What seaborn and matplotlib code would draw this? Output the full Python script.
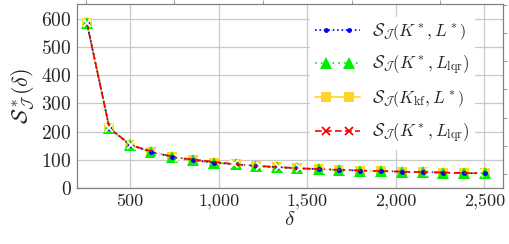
import matplotlib
matplotlib.use("Agg")
import matplotlib.pyplot as plt
from matplotlib.lines import Line2D
from matplotlib.legend_handler import HandlerLine2D
from matplotlib.ticker import FuncFormatter, MultipleLocator
import seaborn as sns

# values
delta = [256, 383, 500, 618, 737, 854, 974, 1095, 1212, 1329,
         1442, 1564, 1677, 1800, 1916, 2035, 2151, 2266, 2383, 2505]
s_opt = [585, 212, 153, 128, 111, 99, 90, 84, 78, 74,
         70, 67, 64, 62, 60, 58, 56, 55, 53, 52]
s_lqr = [585, 212, 153, 128, 111, 99, 90, 84, 78, 74,
         70, 67, 64, 62, 60, 58, 56, 55, 53, 52]
s_kf = [585, 212, 153, 128, 111, 99, 90, 84, 78, 74,
        70, 67, 64, 62, 60, 58, 56, 55, 53, 52]
delta_red = [256, 383, 505, 664, 776, 1085, 1160, 1234, 1338, 1460,
             1611, 1724, 1846, 1969, 2091, 2195, 2317, 2467]
s_red = [585, 212, 152, 122, 107, 85, 81, 78, 74, 70,
         66, 64, 61, 59, 57, 56, 54, 52]

labels = [r"$\mathcal{S}_{\mathcal{J}}\left(K^*, L^*\right)$",
          r"$\mathcal{S}_{\mathcal{J}}\left(K^*, L_{\mathrm{lqr}}\right)$",
          r"$\mathcal{S}_{\mathcal{J}}\left(K_{\mathrm{kf}}, L^*\right)$",
          r"$\mathcal{S}_{\mathcal{J}}\left(K^*, L_{\mathrm{lqr}}\right)$"]


class TwoMarks(HandlerLine2D):
    # full-width sample line, markers at 1/4 and 3/4
    def create_artists(self, legend, orig_handle, xdescent, ydescent,
                       width, height, fontsize, trans):
        arts = super().create_artists(legend, orig_handle, xdescent, ydescent,
                                      width, height, fontsize, trans)
        arts[-1].set_markevery([1, 3])
        return arts


sns.set_style("white")
plt.rcParams["font.family"] = ["cmr10", "DejaVu Serif"]
plt.rcParams["mathtext.fontset"] = "cm"
plt.rcParams["axes.formatter.use_mathtext"] = True

fig = plt.figure(figsize=(5.09, 2.44), dpi=100)
ax = fig.add_axes([0.1513, 0.2295, 0.837, 0.754])

styles = [
    dict(color="#0000FF", linestyle=":", marker="o", markersize=3.5,
         markeredgewidth=0, linewidth=1.2),
    dict(color="#00EE00", linestyle=(0, (1, 2.5)), marker="^", markersize=8,
         markeredgewidth=0, linewidth=1.2),
    dict(color="#FFD42A", linestyle="-", marker="s", markersize=7.5,
         markeredgewidth=0, linewidth=1.2),
    dict(color="#FF0000", linestyle=(0, (4, 2)), marker="x", markersize=5.5,
         markeredgewidth=1.3, linewidth=1.2),
]

sns.lineplot(x=delta, y=s_kf, ax=ax, zorder=2, **styles[2])
sns.lineplot(x=delta, y=s_lqr, ax=ax, zorder=3, **styles[1])
sns.lineplot(x=delta, y=s_opt, ax=ax, zorder=4, **styles[0])
sns.lineplot(x=delta_red, y=s_red, ax=ax, zorder=5, **styles[3])

ax.set_xlim(200, 2605)
ax.set_ylim(0, 653)
ax.xaxis.set_major_locator(MultipleLocator(500))
ax.xaxis.set_minor_locator(MultipleLocator(250))
ax.yaxis.set_major_locator(MultipleLocator(100))
ax.yaxis.set_minor_locator(MultipleLocator(50))
ax.xaxis.set_major_formatter(FuncFormatter(lambda v, p: f"{v:,.0f}"))
ax.grid(True, which="major", color="#C8C8C8", linewidth=0.9)
ax.tick_params(which="major", length=0, pad=4)
ax.tick_params(axis="x", which="major", labelsize=13)
ax.tick_params(axis="y", which="major", labelsize=14)
ax.tick_params(which="minor", direction="out", length=3, color="#888888",
               top=True, right=True)
for sp in ax.spines.values():
    sp.set_color("#808080")
    sp.set_linewidth(0.9)

ax.set_xlabel(r"$\delta$", fontsize=15, labelpad=1)
ax.set_ylabel(r"$\mathcal{S}^*_{\mathcal{J}}(\delta)$", fontsize=16, labelpad=3)

handles = [Line2D([], [], **s) for s in styles]
ax.legend(handles, labels, loc="upper left", bbox_to_anchor=(0.548, 0.93),
          fontsize=12.5, numpoints=5, handlelength=2.6, handletextpad=0.7,
          fancybox=False, edgecolor="white", framealpha=1, borderpad=0.25,
          labelspacing=0.66, borderaxespad=0,
          handler_map={Line2D: TwoMarks(marker_pad=0)})

fig.savefig("out.png", dpi=100)
